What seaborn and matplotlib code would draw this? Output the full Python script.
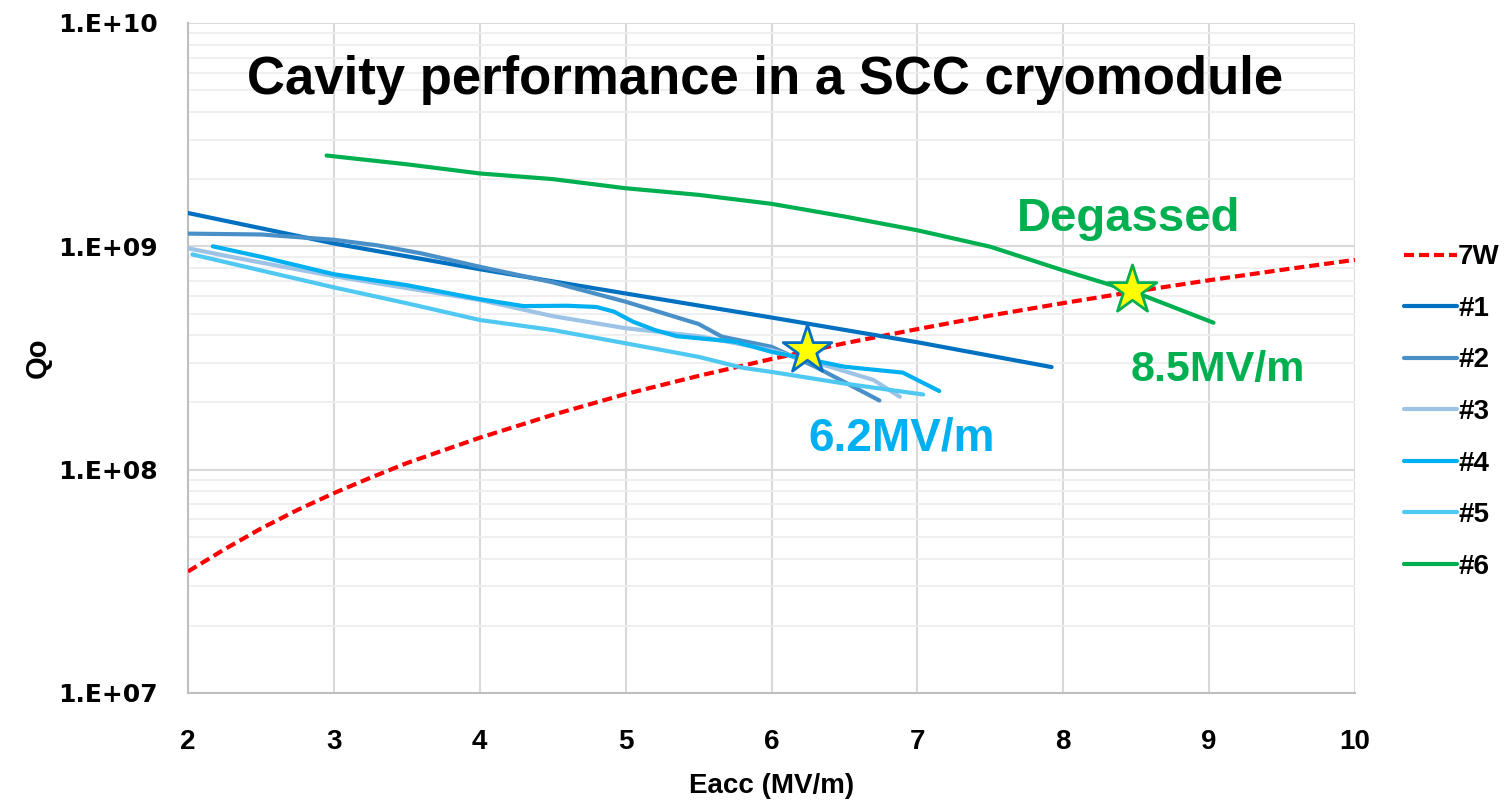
import numpy as np
import pandas as pd
import matplotlib
matplotlib.use("Agg")
import matplotlib.pyplot as plt
from matplotlib.ticker import LogLocator, NullFormatter
import seaborn as sns

# ---------------- data ----------------
e_7w = [2, 2.25, 2.5, 2.75, 3, 3.25, 3.5, 3.75, 4, 4.5, 5, 5.5, 6, 6.5, 7, 7.5,
        8, 8.5, 9, 9.5, 10]
q_7w = [3.5e7, 4.4e7, 5.45e7, 6.6e7, 7.85e7, 9.2e7, 1.07e8, 1.22e8, 1.39e8,
        1.76e8, 2.18e8, 2.63e8, 3.13e8, 3.68e8, 4.26e8, 4.9e8, 5.57e8, 6.29e8,
        7.05e8, 7.85e8, 8.7e8]

e_1 = [2, 3, 4, 5, 6, 7, 7.92]
q_1 = [1.41e9, 1.03e9, 7.9e8, 6.15e8, 4.8e8, 3.72e8, 2.88e8]

e_2 = [2, 2.5, 3, 3.3, 3.6, 4, 4.5, 5, 5.5, 5.66, 6, 6.3, 6.74]
q_2 = [1.14e9, 1.13e9, 1.07e9, 1.01e9, 9.3e8, 8.1e8, 6.9e8, 5.65e8, 4.49e8,
       3.94e8, 3.55e8, 2.89e8, 2.04e8]

e_3 = [2, 2.4, 3, 3.5, 4, 4.5, 5, 5.5, 6, 6.4, 6.7, 6.88]
q_3 = [9.8e8, 8.7e8, 7.35e8, 6.5e8, 5.75e8, 4.87e8, 4.3e8, 3.96e8, 3.43e8,
       2.89e8, 2.52e8, 2.12e8]

e_4 = [2.17, 2.5, 3, 3.5, 4, 4.3, 4.6, 4.8, 4.92, 5.05, 5.2, 5.35, 5.75, 6,
       6.5, 6.9, 7.0, 7.15]
q_4 = [1.0e9, 8.98e8, 7.5e8, 6.7e8, 5.8e8, 5.4e8, 5.42e8, 5.35e8, 5.1e8,
       4.6e8, 4.22e8, 3.96e8, 3.74e8, 3.37e8, 2.89e8, 2.72e8, 2.52e8, 2.25e8]

e_5 = [2.03, 2.5, 3, 3.5, 4, 4.5, 5, 5.5, 5.8, 6, 6.5, 7.04]
q_5 = [9.2e8, 7.8e8, 6.55e8, 5.56e8, 4.68e8, 4.22e8, 3.68e8, 3.2e8, 2.86e8,
       2.74e8, 2.43e8, 2.17e8]

e_6 = [2.95, 3.5, 4, 4.5, 5, 5.5, 6, 6.5, 7, 7.5, 8, 8.5, 9.03]
q_6 = [2.55e9, 2.33e9, 2.12e9, 2.0e9, 1.82e9, 1.7e9, 1.55e9, 1.36e9, 1.18e9,
       9.96e8, 7.8e8, 6.2e8, 4.55e8]

star_e = [6.24, 8.47]
star_q = [3.44e8, 6.37e8]

series_names = ["7W", "#1", "#2", "#3", "#4", "#5", "#6"]
x_ticks = [2, 3, 4, 5, 6, 7, 8, 9, 10]
y_ticks = [1e7, 1e8, 1e9, 1e10]
y_tick_labels = ["1.E+07", "1.E+08", "1.E+09", "1.E+10"]

title = "Cavity performance in a SCC cryomodule"
x_label = "Eacc (MV/m)"
y_label = "Qo"

# ---------------- style ----------------
sns.set_theme(style="white")
plt.rcParams["font.family"] = ["Liberation Sans", "DejaVu Sans"]
plt.rcParams["text.color"] = "black"

colors = {"7W": "#ff0000", "#1": "#0070c0", "#2": "#4a90c8", "#3": "#9dc3e6",
          "#4": "#00b0f0", "#5": "#4fc8f2", "#6": "#00b050"}

W, H = 1512, 801
fig = plt.figure(figsize=(W / 100, H / 100), dpi=100)
ax = fig.add_axes([188 / W, 1 - 693 / H, (1355 - 188) / W, (693 - 23) / H])

data = [(e_7w, q_7w), (e_1, q_1), (e_2, q_2), (e_3, q_3), (e_4, q_4), (e_5, q_5), (e_6, q_6)]
frames = []
for name, (e, q) in zip(series_names, data):
    frames.append(pd.DataFrame({"Eacc": e, "Qo": q, "cavity": name}))
df = pd.concat(frames, ignore_index=True)

for name in series_names:
    sub = df[df["cavity"] == name]
    sns.lineplot(data=sub, x="Eacc", y="Qo", ax=ax, sort=False, estimator=None,
                 color=colors[name], lw=3.0, label=name,
                 linestyle=(0, (2.4, 1.2)) if name == "7W" else "-",
                 solid_capstyle="round", solid_joinstyle="round",
                 dash_capstyle="butt", zorder=3)

ax.set_yscale("log")
ax.set_xlim(2, 10)
ax.set_ylim(1e7, 1e10)

# stars
ax.scatter(star_e[:1], star_q[:1], marker="*", s=1350, c="#ffff00",
           edgecolors="#0070c0", linewidths=2, zorder=5)
ax.scatter(star_e[1:], star_q[1:], marker="*", s=1350, c="#ffff00",
           edgecolors="#00b050", linewidths=2, zorder=5)

# grid
ax.set_xticks(x_ticks)
ax.set_yticks(y_ticks)
ax.set_yticklabels(y_tick_labels)
ax.yaxis.set_minor_locator(LogLocator(base=10, subs=np.arange(2, 10)))
ax.yaxis.set_minor_formatter(NullFormatter())
ax.grid(True, which="major", axis="both", color="#d9d9d9", lw=1.5, zorder=0)
ax.grid(True, which="minor", axis="y", color="#eeeeee", lw=1.3, zorder=0)
ax.set_axisbelow(True)
for s in ["top", "right"]:
    ax.spines[s].set_visible(False)
for s in ["left", "bottom"]:
    ax.spines[s].set_color("#bfbfbf")
    ax.spines[s].set_linewidth(1.5)
ax.tick_params(axis="both", which="both", length=0)
ax.tick_params(axis="y", pad=22)
ax.tick_params(axis="x", pad=26)
for lab in ax.get_yticklabels():
    lab.set_fontfamily(["DejaVu Sans"])
    lab.set_fontweight("bold")
    lab.set_fontsize(18)
    lab.set_color("black")
for lab in ax.get_xticklabels():
    lab.set_fontweight("bold")
    lab.set_fontsize(20)
    lab.set_color("black")

ax.set_xlabel(x_label, fontsize=20, fontweight="bold", labelpad=13, color="black")
ax.set_ylabel(y_label, fontsize=21, fontweight="bold", labelpad=4, color="black")

# annotations
fig.text(765 / W, 1 - 80 / H, title, ha="center", va="center",
         fontsize=38, fontweight="bold", color="black")
ax.text(8.45, 1.33e9, "Degassed", ha="center", va="center", fontsize=34,
        fontweight="bold", color="#00b050")
ax.text(9.06, 2.78e8, "8.5MV/m", ha="center", va="center", fontsize=31,
        fontweight="bold", color="#00b050")
ax.text(6.89, 1.38e8, "6.2MV/m", ha="center", va="center", fontsize=33,
        fontweight="bold", color="#00b0f0")

# legend
leg = ax.legend(loc="center left", bbox_to_anchor=(1404 / W, 1 - 412 / H),
                bbox_transform=fig.transFigure, frameon=False, borderpad=0,
                borderaxespad=0, handlelength=1.9, handletextpad=0.05,
                labelspacing=0.92,
                prop={"weight": "bold", "size": 20})
for t in leg.get_texts():
    t.set_color("black")

fig.savefig("out.png", dpi=100, facecolor="white")
